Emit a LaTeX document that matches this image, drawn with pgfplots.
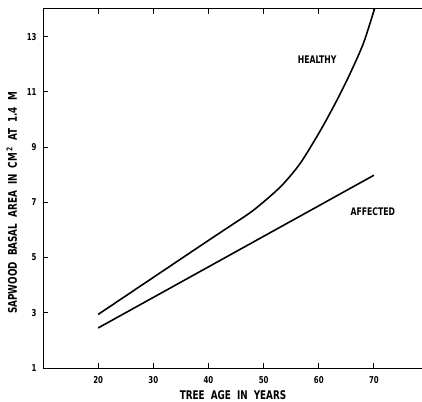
\documentclass[border=0pt]{standalone}
\usepackage{fontspec}
\setmainfont{DejaVu Sans Condensed}[FakeStretch=0.82]
\usepackage{pgfplots}
\pgfplotsset{compat=1.18}
\begin{document}
\begin{tikzpicture}
\begin{axis}[
  scale only axis,
  width=380bp, height=359bp,
  xmin=10, xmax=78.9, ymin=1, ymax=14,
  axis line style={line width=1pt, black},
  xtick={20,30,40,50,60,70},
  ytick={1,3,5,7,9,11,13},
  xtick pos=both, ytick pos=left,
  tick align=inside,
  major tick length=5bp,
  major tick style={line width=1pt, black},
  /pgf/number format/assume math mode=true,
  ticklabel style={font=\bfseries\fontsize{9.5}{10}\selectfont},
  xticklabel style={yshift=-5bp},
  yticklabel style={xshift=-3bp},
  xlabel={TREE\ \ AGE\ \ IN\ \ YEARS},
  ylabel={SAPWOOD\ \ BASAL\ \ AREA\ \ IN\ \ CM\textsuperscript{\,2}\ \ AT\ \ 1.4\ \ M},
  label style={font=\bfseries\fontsize{12}{13}\selectfont},
  xlabel style={yshift=0bp},
  ylabel style={yshift=3bp, at={(ticklabel cs:0.46)}},
  clip=false,
]
\addplot[black, line width=1.6pt, smooth, tension=0.45] coordinates {
  (20,2.94) (30,4.28) (40,5.62) (44,6.15) (48.2,6.72) (53,7.55) (56.6,8.4)
  (60.3,9.6) (63.3,10.7) (65.7,11.67) (68.1,12.76) (70.1,14)
};
\addplot[black, line width=1.6pt] coordinates {(20,2.45) (70,7.98)};
\node[font=\bfseries\fontsize{10.5}{11}\selectfont] at (axis cs:59.7,12.18) {HEALTHY};
\node[font=\bfseries\fontsize{10.5}{11}\selectfont] at (axis cs:69.8,6.67) {AFFECTED};
\end{axis}
\pgfresetboundingbox
\path (current axis.south west) ++(-43bp,-34bp) rectangle ([xshift=-1bp,yshift=9bp]current axis.north east);
\end{tikzpicture}
\end{document}
